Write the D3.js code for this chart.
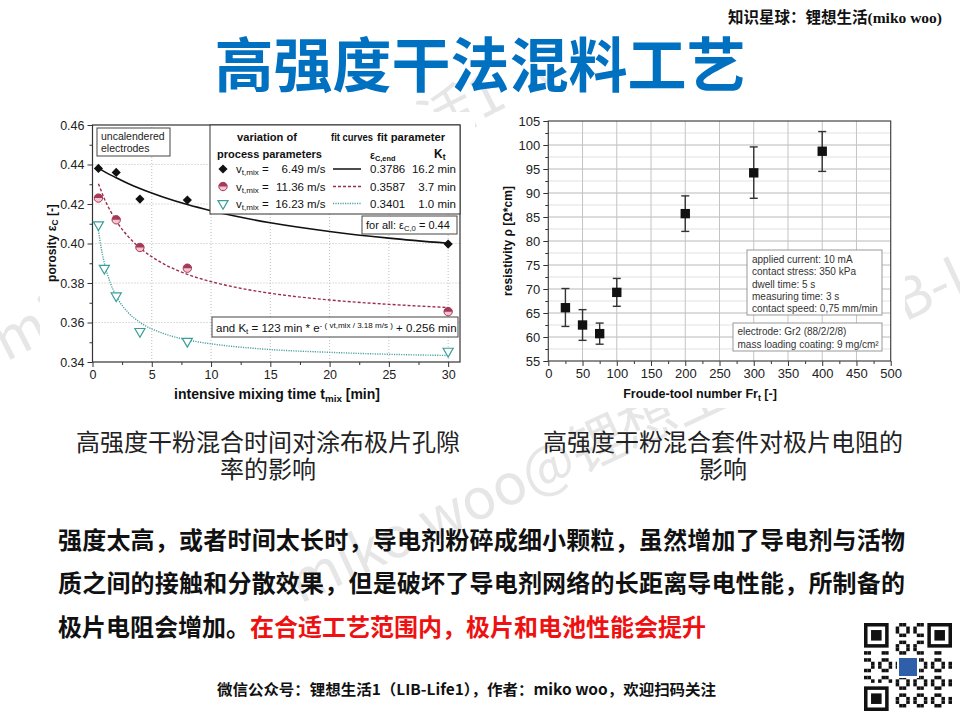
<!DOCTYPE html>
<html>
<head>
<meta charset="utf-8">
<script src="https://cdn.jsdelivr.net/npm/d3@7"></script>
<style>
  body { margin: 0; background: #fff; }
  svg { display: block; font-family: "Liberation Sans", Arial, sans-serif; }
  .cjk { font-family: "Noto Sans CJK SC", sans-serif; }
  .axis text { fill: #222; }
  .axis line { stroke: #333; }
  .axis path { display: none; }
</style>
</head>
<body>
<script>
// ---- left chart: porosity vs. mixing time ----
const leftXTicks = [0, 5, 10, 15, 20, 25, 30];
const leftYTicks = [0.34, 0.36, 0.38, 0.40, 0.42, 0.44, 0.46];

const tBlack = [0.5, 2, 4, 8, 30];
const epsBlack = [0.438, 0.436, 0.4225, 0.422, 0.3997];
const tRed = [0.5, 2, 4, 8, 30];
const epsRed = [0.423, 0.412, 0.398, 0.3875, 0.3655];
const tCyan = [0.5, 1, 2, 4, 8, 30];
const epsCyan = [0.4095, 0.3875, 0.3735, 0.3555, 0.3505, 0.3455];

// fit curves
const fitT = [0.5, 1, 2, 3, 4, 6, 8, 10, 12, 15, 20, 25, 30];
const fitBlack = [0.4382, 0.4364, 0.4333, 0.4304, 0.4278, 0.4234, 0.4197, 0.4166, 0.4139, 0.4105, 0.4061, 0.4027, 0.4001];
const fitRed = [0.4303, 0.4227, 0.4115, 0.4036, 0.3978, 0.3897, 0.3844, 0.3807, 0.3779, 0.3748, 0.3714, 0.3692, 0.3676];
const fitTCyan = [0.5, 0.75, 1, 1.5, 2, 3, 4, 6, 8, 10, 12, 15, 20, 25, 30];
const fitCyan = [0.4067, 0.3972, 0.3901, 0.3801, 0.3734, 0.3651, 0.3601, 0.3544, 0.3512, 0.3492, 0.3478, 0.3463, 0.3449, 0.3439, 0.3433];

const legendSpeeds = ["6.49", "11.36", "16.23"];
const legendEpsEnd = ["0.3786", "0.3587", "0.3401"];
const legendKt = ["16.2 min", "3.7 min", "1.0 min"];

// ---- right chart: resistivity vs. Froude number ----
const rightXTicks = [0, 50, 100, 150, 200, 250, 300, 350, 400, 450, 500];
const rightYTicks = [55, 60, 65, 70, 75, 80, 85, 90, 95, 100, 105];
const froude = [25, 50, 75, 100, 200, 300, 400];
const resistivity = [66.1, 62.5, 60.7, 69.3, 85.7, 94.2, 98.7];
const resLow = [62.2, 59.3, 58.5, 66.4, 82.0, 88.9, 94.5];
const resHigh = [70.1, 65.7, 62.9, 72.2, 89.4, 99.6, 102.8];
const noteLines1 = ["applied current: 10 mA", "contact stress: 350 kPa", "dwell time: 5 s", "measuring time: 3 s", "contact speed: 0,75 mm/min"];
const noteLines2 = ["electrode: Gr2 (88/2/2/8)", "mass loading coating: 9 mg/cm²"];

// ---- page texts ----
const pageTitle = "高强度干法混料工艺";
const leftCaption = ["高强度干粉混合时间对涂布极片孔隙", "率的影响"];
const rightCaption = ["高强度干粉混合套件对极片电阻的", "影响"];
const bodyLines = [
  "强度太高，或者时间太长时，导电剂粉碎成细小颗粒，虽然增加了导电剂与活物",
  "质之间的接触和分散效果，但是破坏了导电剂网络的长距离导电性能，所制备的",
  "极片电阻会增加。"
];
const bodyRed = "在合适工艺范围内，极片和电池性能会提升";
const footer = "微信公众号：锂想生活1（LIB-Life1），作者：miko woo，欢迎扫码关注";
const watermark = "miko woo@锂想生活1（LIB-Life1）";

const svg = d3.select("body").append("svg").attr("width", 960).attr("height", 720);
svg.append("rect").attr("width", 960).attr("height", 720).attr("fill", "#fff");

// faint watermarks (mostly hidden behind the chart images)
const wm = svg.append("g").attr("class", "cjk").attr("fill", "#e6e6e6").style("font-size", "56px");
wm.append("text").attr("transform", "translate(6,362) rotate(-27)").text(watermark.slice(0, 15));
wm.append("text").attr("transform", "translate(300,604) rotate(-25)").text(watermark);

// helper: text with subscript parts, parts = [[str, "sub"|"sup"|null], ...]
function richText(g, x, y, parts, size) {
  const t = g.append("text").attr("x", x).attr("y", y).style("font-size", size + "px");
  parts.forEach(([s, kind]) => {
    const sp = t.append("tspan").text(s);
    if (kind === "sub") sp.attr("baseline-shift", "-30%").style("font-size", size * 0.7 + "px");
    if (kind === "sup") sp.attr("baseline-shift", "45%").style("font-size", size * 0.7 + "px");
  });
  return t;
}

// ================= LEFT CHART =================
const gl = svg.append("g");
gl.append("rect").attr("x", 40).attr("y", 112).attr("width", 435).attr("height", 296).attr("fill", "#fff");

const xL = d3.scaleLinear().domain([0, 31]).range([92.5, 460]);
const yL = d3.scaleLinear().domain([0.34, 0.46]).range([362, 125]);

// dotted grid
gl.append("g").selectAll("line").data(leftXTicks.slice(1)).join("line")
  .attr("x1", d => xL(d)).attr("x2", d => xL(d)).attr("y1", yL(0.34)).attr("y2", yL(0.46))
  .attr("stroke", "#bdbdbd").attr("stroke-dasharray", "1,2");
gl.append("g").selectAll("line").data(leftYTicks.slice(1, -1)).join("line")
  .attr("x1", xL(0)).attr("x2", xL(31)).attr("y1", d => yL(d)).attr("y2", d => yL(d))
  .attr("stroke", "#bdbdbd").attr("stroke-dasharray", "1,2");

// axes
gl.append("g").attr("class", "axis").attr("transform", "translate(0,362)")
  .call(d3.axisBottom(xL).tickValues(leftXTicks).tickSize(5).tickPadding(3).tickFormat(d3.format("d")))
  .selectAll("text").style("font-size", "12.5px");
gl.append("g").attr("class", "axis").attr("transform", "translate(0,362)")
  .call(d3.axisBottom(xL).tickValues(d3.range(2.5, 31, 5)).tickSize(3).tickFormat(""));
gl.append("g").attr("class", "axis").attr("transform", "translate(92.5,0)")
  .call(d3.axisLeft(yL).tickValues(leftYTicks).tickSize(5).tickPadding(3).tickFormat(d3.format(".2f")))
  .selectAll("text").style("font-size", "12.5px");
gl.append("g").attr("class", "axis").attr("transform", "translate(92.5,0)")
  .call(d3.axisLeft(yL).tickValues(d3.range(0.35, 0.46, 0.02)).tickSize(3).tickFormat(""));

gl.append("rect").attr("x", xL(0)).attr("y", yL(0.46)).attr("width", xL(31) - xL(0)).attr("height", yL(0.34) - yL(0.46))
  .attr("fill", "none").attr("stroke", "#333").attr("stroke-width", 1.2);

// fit curves
const lineL = d3.line().x(d => xL(d[0])).y(d => yL(d[1])).curve(d3.curveMonotoneX);
gl.append("path").attr("d", lineL(d3.zip(fitT, fitBlack))).attr("fill", "none").attr("stroke", "#111").attr("stroke-width", 1.6);
gl.append("path").attr("d", lineL(d3.zip(fitT, fitRed))).attr("fill", "none").attr("stroke", "#9b2d4a").attr("stroke-width", 1.4).attr("stroke-dasharray", "3,2");
gl.append("path").attr("d", lineL(d3.zip(fitTCyan, fitCyan))).attr("fill", "none").attr("stroke", "#4aa3a0").attr("stroke-width", 1.4).attr("stroke-dasharray", "1.2,1.2");

// markers
const diamond = d3.symbol().type(d3.symbolSquare).size(42);
const triangle = d3.symbol().type(d3.symbolTriangle).size(44);
const halfTop = d3.arc().innerRadius(0).outerRadius(4.2).startAngle(-Math.PI / 2).endAngle(Math.PI / 2);

function drawDiamond(g, x, y) {
  g.append("path").attr("d", diamond()).attr("transform", `translate(${x},${y}) rotate(45)`).attr("fill", "#111");
}
function drawCircle(g, x, y) {
  g.append("circle").attr("cx", x).attr("cy", y).attr("r", 4.2).attr("fill", "#f2c4cf").attr("stroke", "#a33a58").attr("stroke-width", 1);
  g.append("path").attr("d", halfTop()).attr("transform", `translate(${x},${y})`).attr("fill", "#a33a58");
}
function drawTriangle(g, x, y) {
  g.append("path").attr("d", triangle()).attr("transform", `translate(${x},${y}) rotate(180)`)
    .attr("fill", "#fff").attr("stroke", "#3a9e9a").attr("stroke-width", 1.2);
}
tBlack.forEach((t, i) => drawDiamond(gl, xL(t), yL(epsBlack[i])));
tRed.forEach((t, i) => drawCircle(gl, xL(t), yL(epsRed[i])));
tCyan.forEach((t, i) => drawTriangle(gl, xL(t), yL(epsCyan[i])));

// "uncalendered electrodes" box
gl.append("rect").attr("x", 97).attr("y", 128).attr("width", 73).attr("height", 28).attr("fill", "#fff").attr("stroke", "#444");
gl.append("text").attr("x", 101).attr("y", 139.5).style("font-size", "10.5px").attr("fill", "#222").text("uncalendered");
gl.append("text").attr("x", 101).attr("y", 152).style("font-size", "10.5px").attr("fill", "#222").text("electrodes");

// legend box
const lg = gl.append("g").attr("fill", "#111");
lg.append("rect").attr("x", 210).attr("y", 125).attr("width", 250).attr("height", 89).attr("fill", "#fff").attr("stroke", "#333");
lg.append("text").attr("x", 237).attr("y", 141).attr("textLength", 60).attr("lengthAdjust", "spacingAndGlyphs")
  .style("font-size", "11px").style("font-weight", "bold").text("variation of");
lg.append("text").attr("x", 217).attr("y", 158).attr("textLength", 105).attr("lengthAdjust", "spacingAndGlyphs")
  .style("font-size", "11px").style("font-weight", "bold").text("process parameters");
lg.append("text").attr("x", 331).attr("y", 141).attr("textLength", 42).attr("lengthAdjust", "spacingAndGlyphs")
  .style("font-size", "10.5px").style("font-weight", "bold").text("fit curves");
lg.append("text").attr("x", 377).attr("y", 141).attr("textLength", 68).attr("lengthAdjust", "spacingAndGlyphs")
  .style("font-size", "10.5px").style("font-weight", "bold").text("fit parameter");
richText(lg, 370, 159, [["ε", null], ["C,end", "sub"]], 10.5).style("font-weight", "bold");
richText(lg, 434, 158, [["K", null], ["t", "sub"]], 12).style("font-weight", "bold");

const rowY = [169, 186.5, 203.5];
const sampleStyles = [
  { stroke: "#111", dash: null },
  { stroke: "#9b2d4a", dash: "3,2" },
  { stroke: "#4aa3a0", dash: "1.2,1.2" }
];
rowY.forEach((y, i) => {
  if (i === 0) drawDiamond(lg, 223, y);
  if (i === 1) drawCircle(lg, 223, y);
  if (i === 2) drawTriangle(lg, 223, y);
  richText(lg, 236, y + 4, [["v", null], ["t,mix", "sub"]], 11.5);
  lg.append("text").attr("x", 262).attr("y", y + 4).style("font-size", "11.5px").text("=");
  lg.append("text").attr("x", 304).attr("y", y + 4).attr("text-anchor", "end").style("font-size", "11.5px").text(legendSpeeds[i]);
  lg.append("text").attr("x", 307).attr("y", y + 4).style("font-size", "11.5px").text("m/s");
  lg.append("line").attr("x1", 333).attr("x2", 361).attr("y1", y).attr("y2", y)
    .attr("stroke", sampleStyles[i].stroke).attr("stroke-width", 1.5).attr("stroke-dasharray", sampleStyles[i].dash);
  lg.append("text").attr("x", 370).attr("y", y + 4).style("font-size", "11.5px").text(legendEpsEnd[i]);
  lg.append("text").attr("x", 456).attr("y", y + 4).attr("text-anchor", "end").style("font-size", "11.5px").text(legendKt[i]);
});

// "for all" box
gl.append("rect").attr("x", 362).attr("y", 216).attr("width", 95).attr("height", 18).attr("fill", "#fff").attr("stroke", "#444");
richText(gl, 366, 229, [["for all:  ε", null], ["C,0", "sub"], [" = 0.44", null]], 11).attr("fill", "#111");

// Kt formula box
gl.append("rect").attr("x", 212).attr("y", 317).attr("width", 246).attr("height", 20).attr("fill", "#fff").attr("stroke", "#444");
richText(gl, 216, 331.5, [["and K", null], ["t", "sub"], [" = 123 min * e", null], ["- ( vt,mix / 3.18 m/s )", "sup"], [" + 0.256 min", null]], 11.5).attr("fill", "#111");

// axis titles
richText(gl, 0, 0, [["porosity ε", null], ["C", "sub"], ["  [-]", null]], 12)
  .attr("transform", "translate(56,243) rotate(-90)").attr("text-anchor", "middle").style("font-weight", "bold").attr("fill", "#111");
richText(gl, 277, 399, [["intensive mixing time t", null], ["mix", "sub"], ["   [min]", null]], 14)
  .attr("text-anchor", "middle").style("font-weight", "bold").attr("fill", "#111");

// ================= RIGHT CHART =================
const gr = svg.append("g");
gr.append("rect").attr("x", 495).attr("y", 112).attr("width", 410).attr("height", 296).attr("fill", "#fff");

const xR = d3.scaleLinear().domain([0, 500]).range([548.3, 890.7]);
const yR = d3.scaleLinear().domain([55, 105]).range([361, 121]);

gr.append("g").selectAll("line").data(d3.range(57.5, 105, 5)).join("line")
  .attr("x1", xR(0)).attr("x2", xR(500)).attr("y1", d => yR(d)).attr("y2", d => yR(d))
  .attr("stroke", "#e2e2e2");
gr.append("g").selectAll("line").data(rightYTicks.slice(1, -1)).join("line")
  .attr("x1", xR(0)).attr("x2", xR(500)).attr("y1", d => yR(d)).attr("y2", d => yR(d))
  .attr("stroke", "#b9b9b9");
gr.append("g").selectAll("line").data(rightXTicks.slice(1, -1)).join("line")
  .attr("x1", d => xR(d)).attr("x2", d => xR(d)).attr("y1", yR(55)).attr("y2", yR(105))
  .attr("stroke", "#c4c4c4");

gr.append("g").attr("class", "axis").attr("transform", `translate(0,${yR(55)})`)
  .call(d3.axisBottom(xR).tickValues(rightXTicks).tickSize(5).tickPadding(3))
  .selectAll("text").style("font-size", "13px");
gr.append("g").attr("class", "axis").attr("transform", `translate(0,${yR(55)})`)
  .call(d3.axisBottom(xR).tickValues(d3.range(25, 500, 50)).tickSize(3).tickFormat(""));
gr.append("g").attr("class", "axis").attr("transform", `translate(${xR(0)},0)`)
  .call(d3.axisLeft(yR).tickValues(rightYTicks).tickSize(5).tickPadding(3))
  .selectAll("text").style("font-size", "13px");
gr.append("g").attr("class", "axis").attr("transform", `translate(${xR(0)},0)`)
  .call(d3.axisLeft(yR).tickValues(d3.range(57.5, 105, 5)).tickSize(3).tickFormat(""));

gr.append("rect").attr("x", xR(0)).attr("y", yR(105)).attr("width", xR(500) - xR(0)).attr("height", yR(55) - yR(105))
  .attr("fill", "none").attr("stroke", "#444").attr("stroke-width", 1.2);

// error bars and squares
const pts = froude.map((f, i) => ({ f, v: resistivity[i], lo: resLow[i], hi: resHigh[i] }));
const eb = gr.append("g").attr("stroke", "#333").attr("stroke-width", 1.4);
eb.selectAll(".stem").data(pts).join("line")
  .attr("x1", d => xR(d.f)).attr("x2", d => xR(d.f)).attr("y1", d => yR(d.lo)).attr("y2", d => yR(d.hi));
eb.selectAll(".capL").data(pts).join("line")
  .attr("x1", d => xR(d.f) - 4).attr("x2", d => xR(d.f) + 4).attr("y1", d => yR(d.lo)).attr("y2", d => yR(d.lo));
eb.selectAll(".capH").data(pts).join("line")
  .attr("x1", d => xR(d.f) - 4).attr("x2", d => xR(d.f) + 4).attr("y1", d => yR(d.hi)).attr("y2", d => yR(d.hi));
gr.append("g").selectAll("path").data(pts).join("path")
  .attr("d", d3.symbol().type(d3.symbolSquare).size(88))
  .attr("transform", d => `translate(${xR(d.f)},${yR(d.v)})`).attr("fill", "#111");

// notes
gr.append("rect").attr("x", 747).attr("y", 250).attr("width", 135).attr("height", 65).attr("fill", "#fff").attr("stroke", "#999");
gr.append("g").selectAll("text").data(noteLines1).join("text")
  .attr("x", 752).attr("y", (d, i) => 263 + i * 12.3).style("font-size", "10px").attr("fill", "#333").text(d => d);
gr.append("rect").attr("x", 733).attr("y", 323).attr("width", 149).attr("height", 28).attr("fill", "#fff").attr("stroke", "#999");
gr.append("g").selectAll("text").data(noteLines2).join("text")
  .attr("x", 737.5).attr("y", (d, i) => 334.5 + i * 13.3).style("font-size", "10px").attr("fill", "#333").text(d => d);

// axis titles
gr.append("text").attr("transform", "translate(512,241) rotate(-90)").attr("text-anchor", "middle")
  .style("font-size", "12px").style("font-weight", "bold").attr("fill", "#111").text("resistivity ρ [Ω*cm]");
richText(gr, 700, 398, [["Froude-tool number Fr", null], ["t", "sub"], [" [-]", null]], 12.5)
  .attr("text-anchor", "middle").style("font-weight", "bold").attr("fill", "#111");

// ================= PAGE TEXT =================
const topNote = svg.append("text").attr("x", 942).attr("y", 23).attr("text-anchor", "end")
  .style("font-weight", "bold").attr("fill", "#111");
topNote.append("tspan").attr("class", "cjk").style("font-size", "15.5px").text("知识星球：锂想生活");
topNote.append("tspan").style("font-family", "'Liberation Serif', serif").style("font-size", "15.5px").text("(miko woo)");

svg.append("text").attr("class", "cjk").attr("x", 480).attr("y", 87).attr("text-anchor", "middle")
  .style("font-size", "59px").style("font-weight", "bold").attr("fill", "#0070c0").text(pageTitle);

svg.append("g").attr("class", "cjk").selectAll("text").data(leftCaption).join("text")
  .attr("x", 268).attr("y", (d, i) => 451 + i * 27).attr("text-anchor", "middle")
  .style("font-size", "24px").attr("fill", "#222").text(d => d);
svg.append("g").attr("class", "cjk").selectAll("text").data(rightCaption).join("text")
  .attr("x", 723).attr("y", (d, i) => 451 + i * 27).attr("text-anchor", "middle")
  .style("font-size", "24px").attr("fill", "#222").text(d => d);

const bodyY = [549, 592, 636];
const body = svg.append("g").attr("class", "cjk").style("font-size", "24px").style("font-weight", "bold");
bodyLines.forEach((s, i) => {
  const t = body.append("text").attr("x", 58).attr("y", bodyY[i]).attr("fill", "#111").text(s);
  if (i < 2) t.attr("textLength", 847).attr("lengthAdjust", "spacing");
  if (i === 2) t.append("tspan").attr("fill", "#ee1111").text(bodyRed);
});

svg.append("text").attr("class", "cjk").attr("x", 217).attr("y", 695)
  .attr("textLength", 499).attr("lengthAdjust", "spacingAndGlyphs")
  .style("font-size", "15px").style("font-weight", "bold").attr("fill", "#111").text(footer);

// QR code placeholder (finder patterns + deterministic modules)
const qr = svg.append("g").attr("transform", "translate(864,623)");
const qn = 25, qs = 88 / qn;
qr.append("rect").attr("width", 88).attr("height", 89).attr("fill", "#fff");
const mods = [];
for (let r = 0; r < qn; r++) for (let c = 0; c < qn; c++) {
  const inFinder = (r < 8 && c < 8) || (r < 8 && c >= qn - 8) || (r >= qn - 8 && c < 8);
  if (!inFinder && ((r * 7 + c * 11 + r * c) % 5 < 2)) mods.push([r, c]);
}
qr.selectAll(".m").data(mods).join("rect")
  .attr("x", d => d[1] * qs).attr("y", d => d[0] * qs).attr("width", qs).attr("height", qs).attr("fill", "#111");
[[0, 0], [0, qn - 7], [qn - 7, 0]].forEach(([r, c]) => {
  qr.append("rect").attr("x", c * qs + qs / 2).attr("y", r * qs + qs / 2).attr("width", 6 * qs).attr("height", 6 * qs)
    .attr("fill", "none").attr("stroke", "#111").attr("stroke-width", qs);
  qr.append("rect").attr("x", (c + 2) * qs).attr("y", (r + 2) * qs).attr("width", 3 * qs).attr("height", 3 * qs).attr("fill", "#111");
});
qr.append("rect").attr("x", 33).attr("y", 33).attr("width", 22).attr("height", 22).attr("fill", "#fff");
qr.append("rect").attr("x", 35).attr("y", 35).attr("width", 18).attr("height", 18).attr("fill", "#2f5fa8");
</script>
</body>
</html>
